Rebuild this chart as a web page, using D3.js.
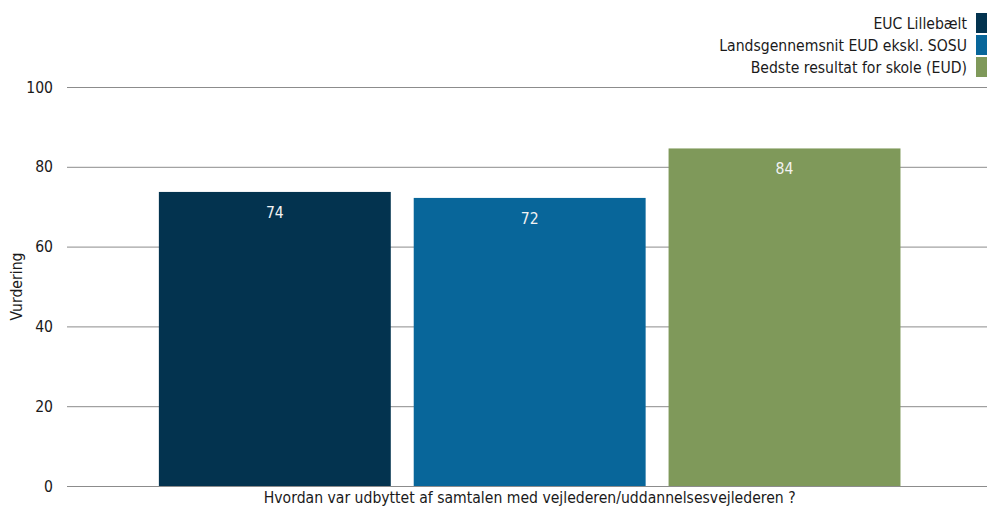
<!DOCTYPE html>
<html>
<head>
<meta charset="utf-8">
<script src="https://cdn.jsdelivr.net/npm/d3@7"></script>
<style>
  html, body { margin: 0; padding: 0; background: #fff; }
  svg text { font-family: "DejaVu Sans Condensed", "DejaVu Sans", sans-serif; }
</style>
</head>
<body>
<svg id="chart" width="987" height="510"></svg>
<script>
const category = "Hvordan var udbyttet af samtalen med vejlederen/uddannelsesvejlederen ?";
const seriesNames = ["EUC Lillebælt", "Landsgennemsnit EUD ekskl. SOSU", "Bedste resultat for skole (EUD)"];
const seriesValues = [73.7, 72.2, 84.6];
const valueLabels = ["74", "72", "84"];
const seriesColors = ["#03334f", "#08669a", "#7f995a"];
const yTicks = [0, 20, 40, 60, 80, 100];
const yTitle = "Vurdering";

const W = 987, H = 510;
const margin = { left: 67, right: 0, top: 87, bottom: 24 };
const fs = "15.6px";
const svg = d3.select("#chart");

const y = d3.scaleLinear().domain([0, 100]).range([H - margin.bottom, margin.top]);
const x = d3.scaleBand().domain(seriesNames)
  .range([margin.left, W - margin.right])
  .paddingInner(0.09).paddingOuter(0.35).align(0.515);

// gridlines
const yAxis = d3.axisLeft(y).tickValues(yTicks).tickSize(-(W - margin.left - margin.right)).tickPadding(14);
const gy = svg.append("g").attr("transform", `translate(${margin.left},0)`).call(yAxis);
gy.select(".domain").remove();
gy.selectAll(".tick line").attr("stroke", "#8c8c8c").attr("stroke-width", 1);
gy.selectAll(".tick text").attr("fill", "#1a1a1a").style("font-size", fs);

// bars
svg.append("g").selectAll("rect").data(seriesValues).join("rect")
  .attr("x", (d, i) => x(seriesNames[i]))
  .attr("width", x.bandwidth())
  .attr("y", d => y(d))
  .attr("height", d => y(0) - y(d))
  .attr("fill", (d, i) => seriesColors[i]);

// value labels
svg.append("g").selectAll("text").data(seriesValues).join("text")
  .attr("x", (d, i) => x(seriesNames[i]) + x.bandwidth() / 2)
  .attr("y", d => y(d) + 26)
  .attr("text-anchor", "middle")
  .attr("fill", "#f2f2f2")
  .style("font-size", fs)
  .text((d, i) => valueLabels[i]);

// x-axis title (category)
const xMid = (x(seriesNames[0]) + x(seriesNames[seriesNames.length - 1]) + x.bandwidth()) / 2;
svg.append("text")
  .attr("x", xMid).attr("y", 503)
  .attr("text-anchor", "middle").attr("fill", "#1a1a1a")
  .style("font-size", fs)
  .text(category);

// y title
svg.append("text")
  .attr("transform", `translate(22,${(y(0) + y(100)) / 2}) rotate(-90)`)
  .attr("text-anchor", "middle").attr("fill", "#1a1a1a")
  .style("font-size", fs)
  .text(yTitle);

// legend
const lg = svg.append("g").selectAll("g").data(seriesNames).join("g")
  .attr("transform", (d, i) => `translate(0,${13 + i * 22})`);
lg.append("rect").attr("x", 976).attr("y", 0).attr("width", 11).attr("height", 20)
  .attr("fill", (d, i) => seriesColors[i]);
lg.append("text").attr("x", 967).attr("y", 15.5).attr("text-anchor", "end")
  .attr("fill", "#1a1a1a").style("font-size", fs).text(d => d);
</script>
</body>
</html>
